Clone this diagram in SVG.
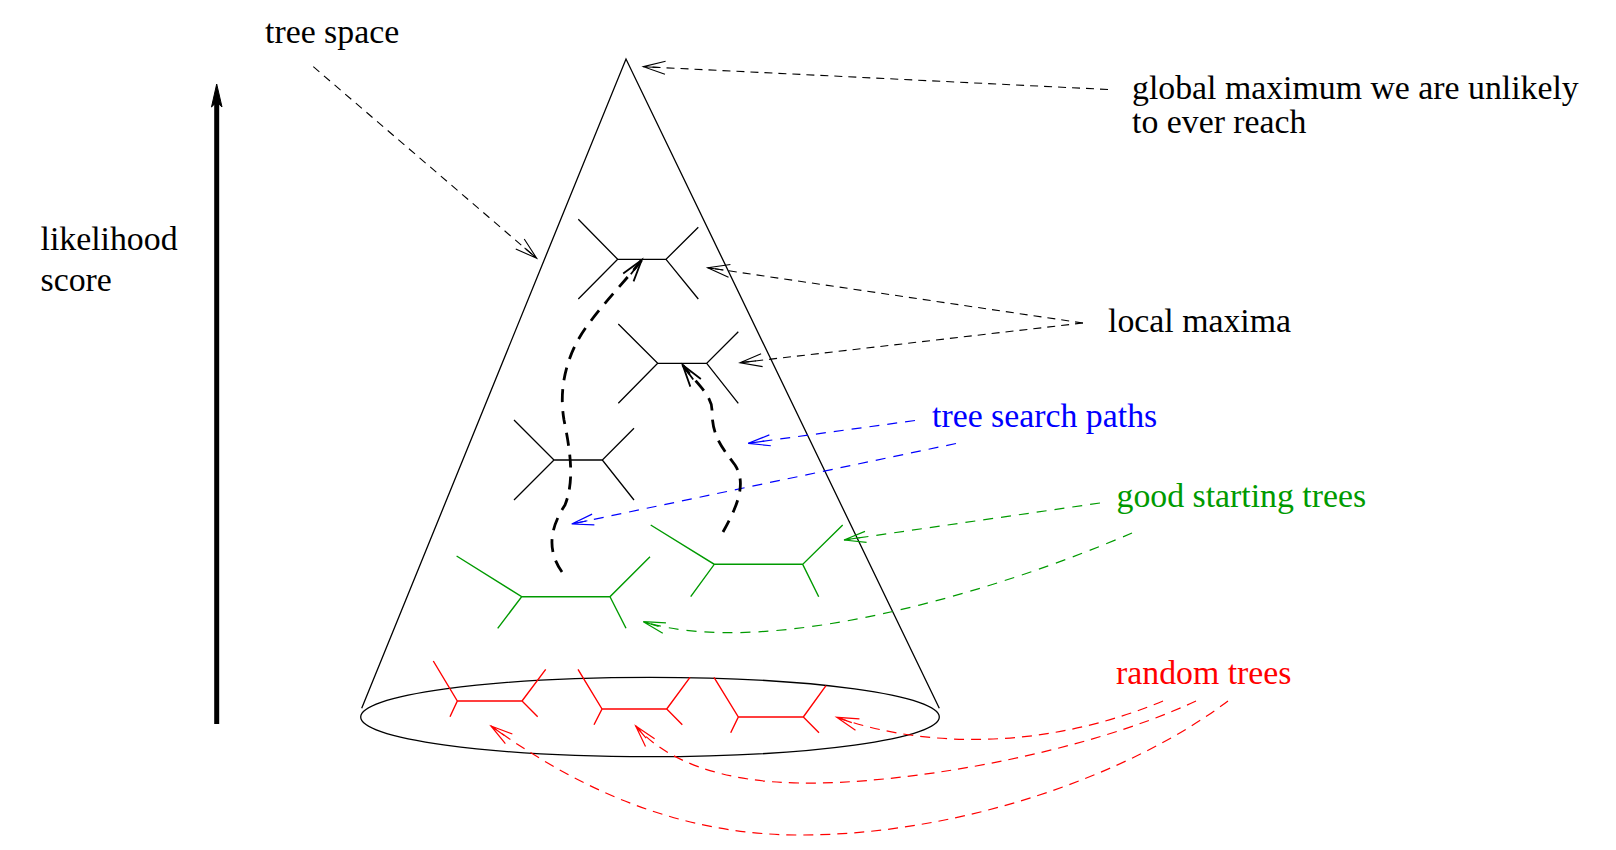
<svg xmlns="http://www.w3.org/2000/svg" width="1616" height="850" viewBox="0 0 1616 850">
<style>
.t{font-family:"Liberation Serif","Times New Roman",serif;font-size:33.8px}
.blk{stroke:#000;fill:none;stroke-width:1.3}
.red{stroke:#ff0000;fill:none;stroke-width:1.4}
.grn{stroke:#009a00;fill:none;stroke-width:1.4}
.dk{stroke:#000;fill:none;stroke-width:1.1;stroke-dasharray:8 6}
.dr{stroke:#ff0000;fill:none;stroke-width:1.2;stroke-dasharray:10 7}
.db{stroke:#0000ff;fill:none;stroke-width:1.2;stroke-dasharray:10 8}
.dg{stroke:#009a00;fill:none;stroke-width:1.2;stroke-dasharray:10 8}
.dthick{stroke:#000;fill:none;stroke-width:2.8;stroke-dasharray:13 9}
</style>
<defs>
<marker id="ak" markerUnits="userSpaceOnUse" orient="auto" markerWidth="40" markerHeight="40" refX="0" refY="0" viewBox="-30 -15 40 30" overflow="visible">
<path d="M-22,-6.5 L0,0 L-22,6.5 M-16,0 L0,0" fill="none" stroke="#000" stroke-width="1.1"/>
</marker>
<marker id="ar" markerUnits="userSpaceOnUse" orient="auto" markerWidth="40" markerHeight="40" refX="0" refY="0" viewBox="-30 -15 40 30" overflow="visible">
<path d="M-22,-6 L0,0 L-22,6 M-16,0 L0,0" fill="none" stroke="#ff0000" stroke-width="1.2"/>
</marker>
<marker id="ab" markerUnits="userSpaceOnUse" orient="auto" markerWidth="40" markerHeight="40" refX="0" refY="0" viewBox="-30 -15 40 30" overflow="visible">
<path d="M-22,-5.5 L0,0 L-22,5.5 M-16,0 L0,0" fill="none" stroke="#0000ff" stroke-width="1.2"/>
</marker>
<marker id="ag" markerUnits="userSpaceOnUse" orient="auto" markerWidth="40" markerHeight="40" refX="0" refY="0" viewBox="-30 -15 40 30" overflow="visible">
<path d="M-22,-5.5 L0,0 L-22,5.5 M-16,0 L0,0" fill="none" stroke="#009a00" stroke-width="1.2"/>
</marker>
<marker id="athick" markerUnits="userSpaceOnUse" orient="auto" markerWidth="40" markerHeight="40" refX="0" refY="0" viewBox="-30 -15 40 30" overflow="visible">
<path d="M-22,-6.5 L0,0 L-22,6.5 M-18,0 L0,0" fill="none" stroke="#000" stroke-width="1.8"/>
</marker>
</defs>
<rect width="1616" height="850" fill="#fff"/>

<g id="score-axis">
<line x1="216.7" y1="724" x2="216.7" y2="100" stroke="#000" stroke-width="5"/>
<path d="M216.7,84 L211.5,107 L216.7,102 L222,107 Z" fill="#000" stroke="#000" stroke-width="1"/>
<text class="t" x="40.5" y="250">likelihood</text>
<text class="t" x="40.5" y="290.7">score</text>
</g>

<g id="cone">
<path class="blk" d="M361.7,708.3 L626,59 L939.3,708.3"/>
<ellipse class="blk" cx="650" cy="717" rx="289.3" ry="39.7" stroke-width="1.5"/>
</g>

<g id="local-max-1">
<path class="blk" d="M578.3,219.3 L617.7,259.3 L578.3,299 M617.7,259.3 L666,259.3 M698.3,227.3 L666,259.3 L698.3,299"/>
</g>
<g id="local-max-2">
<path class="blk" d="M618.3,324 L657.7,363.3 L618.3,403.3 M657.7,363.3 L706.7,363.3 M738.3,331.7 L706.7,363.3 L738.3,403.3"/>
</g>
<g id="intermediate-tree">
<path class="blk" d="M514,420 L554,460 L514,500 M554,460 L602.3,460 M634,428.3 L602.3,460 L634,500"/>
</g>

<g id="good-tree-1">
<path class="grn" d="M456.6,556 L521.7,596.7 L497.7,628.3 M521.7,596.7 L610,596.7 M650,556.7 L610,596.7 L626,628.3"/>
</g>
<g id="good-tree-2">
<path class="grn" d="M650.7,525 L714.3,564.3 L690.7,596.7 M714.3,564.3 L802.7,564.3 M842.7,525 L802.7,564.3 L818.7,596.7"/>
</g>

<g id="random-tree-1">
<path class="red" d="M433.3,661 L457.3,701 L450,716.7 M457.3,701 L522,701 M545.7,669.3 L522,701 L537.7,716.7"/>
</g>
<g id="random-tree-2">
<path class="red" d="M578,669.3 L602,709 L594,724.7 M602,709 L666.7,709 M690,677.3 L666.7,709 L682.3,724.7"/>
</g>
<g id="random-tree-3">
<path class="red" d="M714,677.3 L738.3,717 L730.7,732.7 M738.3,717 L803.3,717 M826,685.7 L803.3,717 L819,732.7"/>
</g>

<g id="labels">
<text id="tree-space" class="t" x="265" y="42.7">tree space</text>
<text id="global-max" class="t" x="1132" y="99.3">global maximum we are unlikely</text>
<text class="t" x="1132" y="132.7">to ever reach</text>
<text id="local-maxima" class="t" x="1108" y="331.7">local maxima</text>
<text id="search-paths" class="t" x="932" y="426.7" fill="#0000ff">tree search paths</text>
<text id="good-start" class="t" x="1116.5" y="506.7" fill="#009a00">good starting trees</text>
<text id="random-trees" class="t" x="1116" y="684.3" fill="#ff0000">random trees</text>
</g>

<g id="connectors">
<path class="dk" d="M313.3,66.7 L536.7,258.3" marker-end="url(#ak)"/>
<path class="dk" d="M1108,89.5 L643.3,66.7" marker-end="url(#ak)"/>
<path class="dk" d="M1083,323 L707.7,267.7" marker-end="url(#ak)"/>
<path class="dk" d="M1083,323 L740,362.7" marker-end="url(#ak)"/>
<path class="db" d="M915,420.5 L748.3,443.3" marker-end="url(#ab)"/>
<path class="db" d="M956,443.5 L571.7,524" marker-end="url(#ab)"/>
<path class="dg" d="M1100,503 L844,540" marker-end="url(#ag)"/>
<path class="dg" d="M1132,533 C1000,590 770,660 643.3,621.7" marker-end="url(#ag)"/>
<path class="dr" d="M1163,701 C1050,748 930,750 836.7,717.3" marker-end="url(#ar)"/>
<path class="dr" d="M1196,701 C1080,755 900,785 800,783 C720,782 665,760 635.7,726" marker-end="url(#ar)"/>
<path class="dr" d="M1228,701 C1130,775 960,835 800,835 C680,835 580,790 491,726" marker-end="url(#ar)"/>
<path class="dthick" d="M562,572 C545,548 552,525 565,505 C575,480 570,450 564,420 C558,385 568,350 590,322 C608,298 628,278 641.7,260" marker-end="url(#athick)"/>
<path class="dthick" d="M723,532 C735,510 748,485 735,465 C720,445 712,435 712,410 C712,395 695,382 682.7,365" marker-end="url(#athick)"/>
</g>
</svg>
